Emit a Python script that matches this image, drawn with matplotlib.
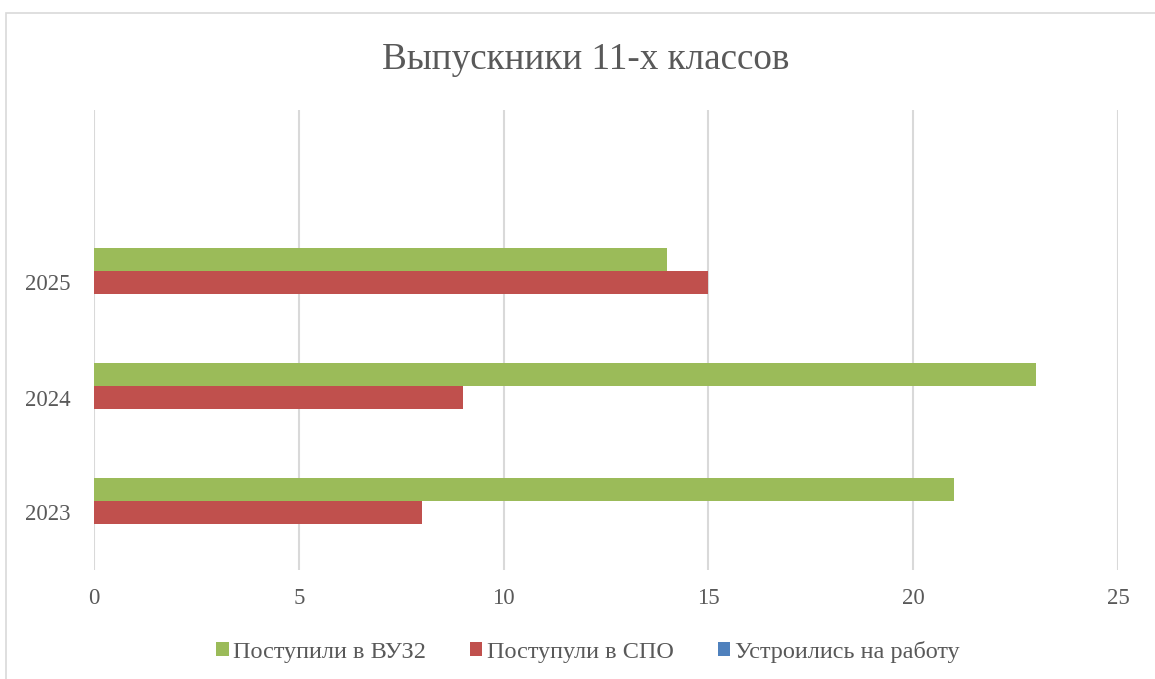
import numpy as np
import matplotlib
matplotlib.use("Agg")
import matplotlib.pyplot as plt
from matplotlib.patches import Rectangle

years = ["2023", "2024", "2025"]
vuz = [21, 23, 14]
spo = [8, 9, 15]
work = [0, 0, 0]
series_names = ["Поступили в ВУЗ2", "Поступули в СПО", "Устроились на работу"]
colors = ["#9BBB59", "#C0504D", "#4F81BD"]

plt.rcParams['font.family'] = ['Liberation Serif', 'DejaVu Serif']
TXT = "#595959"

fig = plt.figure(figsize=(11.55, 6.79), dpi=100)
# chart frame
fig.patches.append(Rectangle((6 / 1155, -0.1), 1.2, (679 - 13) / 679 + 0.1,
                             transform=fig.transFigure, fill=False,
                             edgecolor="#D9D9D9", linewidth=1.2))

ax = fig.add_axes([94 / 1155, 1 - 570 / 679, 1024 / 1155, 460 / 679])
y = np.arange(len(years))
h = 0.2
ax.barh(y + h, vuz, height=h, color=colors[0], label=series_names[0], zorder=3)
ax.barh(y, spo, height=h, color=colors[1], label=series_names[1], zorder=3)
ax.barh(y - h, work, height=h, color=colors[2], label=series_names[2], zorder=3)

# one empty category slot on top, as in the source sheet
ax.set_ylim(-0.5, len(years) + 0.5)
ax.set_xlim(0, 25)
ax.set_xticks(range(0, 26, 5))
ax.set_yticks(y)
ax.set_yticklabels(years)
ax.grid(axis='x', color="#D9D9D9", linewidth=1.5, zorder=0)
for s in ax.spines.values():
    s.set_visible(False)
ax.tick_params(axis='both', length=0, labelsize=16.5, colors=TXT)
ax.tick_params(axis='y', pad=17)
ax.tick_params(axis='x', pad=13)

fig.text(0.507, 1 - 60 / 679, "Выпускники 11-х классов", ha='center', va='center',
         fontsize=26.7, color=TXT)

fig.legend(loc='center', bbox_to_anchor=(0.509, 1 - 652 / 679), ncol=3, frameon=False,
           fontsize=17.5, handlelength=0.5, handleheight=0.5, handletextpad=0.2,
           columnspacing=1.8, labelcolor=TXT)

fig.savefig("out.png", dpi=100)
